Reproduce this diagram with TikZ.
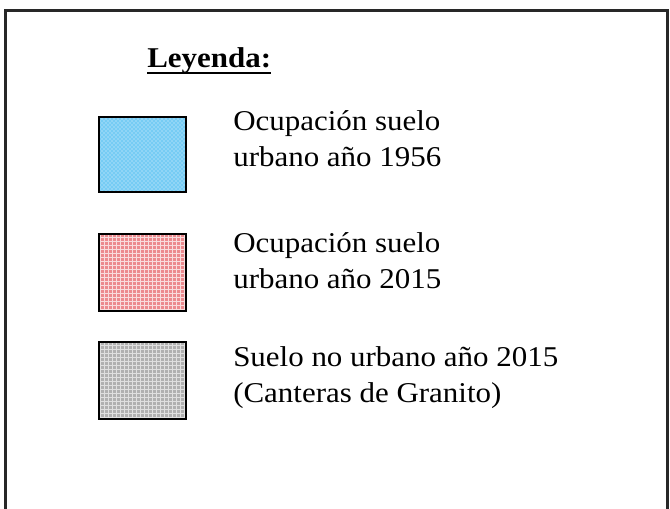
\documentclass[tikz,border=0pt]{standalone}
\usepackage{fontspec}
\setmainfont[FakeStretch=1.08]{Liberation Serif}
\usetikzlibrary{patterns}
\definecolor{blueA}{RGB}{118,204,244}
\definecolor{pinkA}{RGB}{236,138,142}
\definecolor{grayA}{RGB}{176,176,176}
\definecolor{frameC}{RGB}{40,40,40}
\tikzset{
  legbox/.style={draw=black, line width=1.6pt},
  legtext/.style={anchor=base west, inner sep=0pt, align=left,
    font=\fontsize{21.5}{27}\selectfont},
}
\begin{document}
\begin{tikzpicture}[x=0.75pt,y=-0.75pt]
\useasboundingbox (0,0) rectangle (670,509);
\begin{scope}
\clip (0,0) rectangle (670,509);
\draw[frameC, line width=1.6pt] (5.5,530) -- (5.5,10.5) -- (667.5,10.5) -- (667.5,530);
\end{scope}
\node[anchor=base west, inner sep=0pt, font=\fontsize{21.5}{27}\selectfont\bfseries] (title) at (147,68) {Leyenda:};
\draw[line width=1.5pt] ([yshift=-3.8pt]title.base west) -- ([yshift=-3.8pt]title.base east);
% items
\fill[blueA] (99,117) rectangle (186,192);
\fill[pattern=crosshatch dots, pattern color=white!85!blueA] (99,117) rectangle (186,192);
\draw[legbox] (99,117) rectangle (186,192);
\fill[pinkA] (99,234) rectangle (186,311);
\fill[pattern=grid, pattern color=white!70!pinkA] (99,234) rectangle (186,311);
\draw[legbox] (99,234) rectangle (186,311);
\fill[grayA] (99,342) rectangle (186,419);
\fill[pattern=grid, pattern color=white!60!grayA] (99,342) rectangle (186,419);
\draw[legbox] (99,342) rectangle (186,419);
\node[legtext] (t1) at (233,167) {Ocupación suelo\\urbano año 1956};
\node[legtext] (t2) at (233,288) {Ocupación suelo\\urbano año 2015};
\node[legtext] (t3) at (233,402) {Suelo no urbano año 2015\\(Canteras de Granito)};
\end{tikzpicture}
\end{document}
